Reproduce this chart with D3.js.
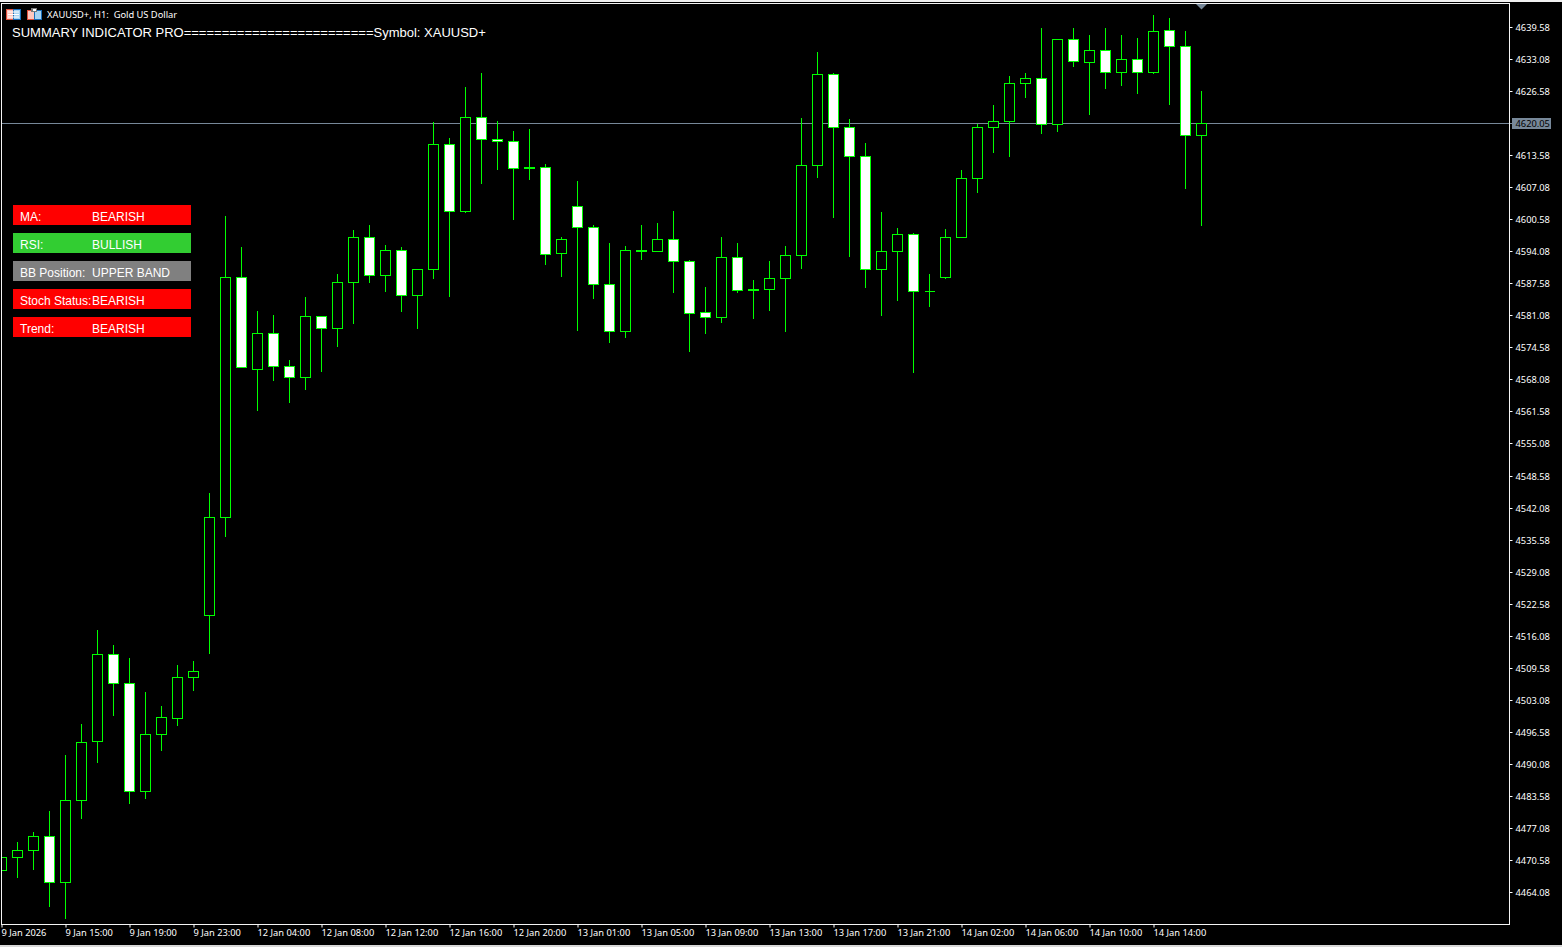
<!DOCTYPE html>
<html><head><meta charset="utf-8"><script src="https://cdn.jsdelivr.net/npm/d3@7/dist/d3.min.js"></script>
<style>html,body{margin:0;padding:0;background:#000;overflow:hidden}svg{display:block}</style></head><body><svg id="c" width="1562" height="947"></svg>
<script>
const opens=[4468.50,4471.14,4472.64,4475.48,4466.15,4482.79,4494.76,4512.41,4506.53,4484.61,4496.18,4499.42,4507.74,4520.38,4540.17,4588.90,4570.23,4577.54,4570.84,4568.61,4580.99,4578.55,4587.88,4597.01,4589.30,4594.38,4585.25,4590.52,4615.88,4602.29,4621.36,4616.90,4616.49,4611.18,4611.22,4593.77,4603.30,4599.04,4587.48,4577.94,4594.34,4594.17,4596.61,4592.14,4581.72,4580.78,4592.96,4586.42,4586.46,4588.61,4593.36,4611.62,4630.09,4619.33,4613.45,4590.52,4594.17,4597.62,4586.06,4588.90,4597.01,4608.98,4619.33,4620.55,4628.26,4629.27,4619.94,4637.19,4632.52,4634.95,4630.49,4633.13,4630.49,4639.01,4635.77,4617.71];
const highs=[4471.14,4474.33,4476.36,4480.62,4491.98,4498.27,4517.34,4514.30,4511.66,4504.76,4502.12,4510.24,4511.05,4545.14,4601.34,4595.05,4582.26,4581.45,4572.32,4585.10,4580.99,4589.77,4598.50,4599.51,4595.65,4595.05,4590.72,4620.41,4617.36,4627.71,4630.35,4620.61,4618.78,4618.99,4611.89,4597.08,4608.44,4599.51,4595.86,4595.25,4599.71,4599.92,4602.35,4592.41,4587.13,4597.08,4595.86,4588.55,4592.21,4595.45,4621.22,4634.81,4630.55,4621.02,4616.15,4602.15,4599.10,4597.89,4589.77,4598.90,4610.87,4620.14,4623.86,4629.94,4630.55,4639.68,4637.19,4639.68,4638.06,4639.68,4638.26,4637.65,4642.12,4641.71,4639.07,4626.70];
const lows=[4468.50,4467.08,4468.71,4461.20,4458.76,4479.05,4490.42,4499.95,4482.10,4483.11,4492.85,4497.92,4505.02,4512.53,4536.41,4570.64,4561.83,4567.92,4563.46,4566.09,4569.75,4574.82,4579.48,4587.80,4585.98,4581.92,4578.47,4588.61,4584.96,4602.09,4607.89,4610.73,4600.59,4608.70,4591.46,4589.02,4578.06,4584.56,4575.63,4576.64,4592.47,4594.17,4585.77,4573.80,4577.46,4579.69,4585.77,4580.50,4582.12,4577.86,4590.64,4609.11,4600.99,4593.08,4586.79,4581.11,4584.15,4569.54,4582.93,4588.61,4597.01,4606.06,4614.18,4613.37,4625.34,4618.03,4618.44,4631.63,4621.89,4627.16,4627.77,4626.15,4630.29,4623.92,4606.87,4599.37];
const closes=[4471.14,4472.64,4475.48,4466.15,4482.79,4494.55,4512.41,4506.53,4484.61,4496.18,4499.63,4507.74,4508.96,4540.17,4588.90,4570.64,4577.54,4570.84,4568.61,4580.99,4578.55,4587.88,4597.01,4589.30,4594.38,4585.25,4590.52,4615.88,4602.29,4621.36,4616.90,4616.49,4611.01,4610.97,4593.57,4596.61,4599.04,4587.48,4577.94,4594.38,4594.13,4596.61,4592.14,4581.59,4580.78,4592.96,4586.26,4586.22,4588.70,4593.36,4611.62,4630.09,4619.33,4613.45,4590.52,4594.17,4597.62,4586.06,4586.06,4597.01,4608.98,4619.33,4620.55,4628.26,4629.27,4619.94,4637.19,4632.72,4634.95,4630.49,4633.13,4630.49,4638.81,4635.77,4617.71,4620.05];
const priceTicks=[4639.58,4633.08,4626.58,4613.58,4607.08,4600.58,4594.08,4587.58,4581.08,4574.58,4568.08,4561.58,4555.08,4548.58,4542.08,4535.58,4529.08,4522.58,4516.08,4509.58,4503.08,4496.58,4490.08,4483.58,4477.08,4470.58,4464.08];
const timeTickIdx=[0,4,8,12,16,20,24,28,32,36,40,44,48,52,56,60,64,68,72];
const timeLabels=["9 Jan 2026","9 Jan 15:00","9 Jan 19:00","9 Jan 23:00","12 Jan 04:00","12 Jan 08:00","12 Jan 12:00","12 Jan 16:00","12 Jan 20:00","13 Jan 01:00","13 Jan 05:00","13 Jan 09:00","13 Jan 13:00","13 Jan 17:00","13 Jan 21:00","14 Jan 02:00","14 Jan 06:00","14 Jan 10:00","14 Jan 14:00"];
const lastPrice=4620.05;
const headerText="XAUUSD+, H1:  Gold US Dollar";
const titleText="SUMMARY INDICATOR PRO=========================Symbol: XAUUSD+";
const statusLabels=["MA:","RSI:","BB Position:","Stoch Status:","Trend:"];
const statusValues=["BEARISH","BULLISH","UPPER BAND","BEARISH","BEARISH"];
const statusColors=["#ff0000","#32cd32","#808080","#ff0000","#ff0000"];

const svg=d3.select("#c");
const GREEN="#00ff00", SLATE="#778899", TICKFONT="'Noto Sans',sans-serif", TICKSIZE=9.3;
const x=d3.scaleLinear().domain([0,75]).range([1.5,1201.5]);
const y=d3.scaleLinear().domain([4639.58,4464.08]).range([27.5,892.5]);
const snap=v=>Math.floor(v)+0.5;

svg.append("rect").attr("width",1562).attr("height",947).attr("fill","#000");
svg.append("rect").attr("width",1562).attr("height",2).attr("fill","#f0f0f0");
svg.append("rect").attr("y",945).attr("width",1562).attr("height",2).attr("fill","#d8d8d8");

// current price line (behind candles)
svg.append("line").attr("x1",2).attr("x2",1512).attr("y1",snap(y(lastPrice))).attr("y2",snap(y(lastPrice))).attr("stroke",SLATE);

const plot=svg.append("g");
const candles=d3.range(opens.length).map(i=>({i,o:opens[i],h:highs[i],l:lows[i],c:closes[i]}));
plot.selectAll("line.w").data(candles).join("line").attr("class","w")
 .attr("x1",d=>x(d.i)).attr("x2",d=>x(d.i))
 .attr("y1",d=>snap(y(d.h))).attr("y2",d=>snap(y(d.l)))
 .attr("stroke",GREEN).attr("shape-rendering","crispEdges");
plot.selectAll("path.b").data(candles).join("path").attr("class","b")
 .attr("d",d=>{const p=d3.path(),x0=Math.max(x(d.i)-5,1.5),x1=x(d.i)+5,a=snap(y(d.o)),b=snap(y(d.c));
   p.moveTo(x0,a);p.lineTo(x1,a);p.lineTo(x1,b);p.lineTo(x0,b);p.closePath();return p.toString();})
 .attr("fill",d=>d.c>=d.o?"#000":"#fff").attr("stroke",GREEN).attr("stroke-width",1)
 .attr("shape-rendering","crispEdges");

// frame
svg.append("rect").attr("x",1.5).attr("y",3.5).attr("width",1508).attr("height",921).attr("fill","none").attr("stroke","#f4f4f4").attr("shape-rendering","crispEdges");

// price axis
const yAxis=d3.axisRight(y).tickValues(priceTicks).tickSize(3).tickPadding(3).tickFormat(d3.format(".2f"));
const gy=svg.append("g").attr("transform","translate(1509.5,0)").call(yAxis);
gy.select(".domain").remove();
gy.selectAll(".tick").attr("transform",d=>`translate(0,${snap(y(d))})`);
gy.selectAll("line").attr("stroke","#fff");
gy.selectAll("text").attr("fill","#fff").attr("font-family",TICKFONT).attr("font-size",TICKSIZE).attr("dy","0.34em");

// time axis
const xAxis=d3.axisBottom(x).tickValues(timeTickIdx).tickSize(3).tickFormat((d,i)=>timeLabels[i]);
const gx=svg.append("g").attr("transform","translate(0,924.5)").call(xAxis);
gx.select(".domain").remove();
gx.selectAll("line").attr("stroke","#fff");
gx.selectAll("text").attr("fill","#fff").attr("font-family",TICKFONT).attr("font-size",TICKSIZE).attr("text-anchor","start").attr("x",-0.5).attr("y",5).attr("dy","0.71em");

// current price tag
const ty=snap(y(lastPrice));
svg.append("rect").attr("x",1512).attr("y",ty-5.5).attr("width",39).attr("height",11).attr("fill",SLATE);
svg.append("text").attr("x",1515.5).attr("y",ty).attr("dy","0.34em").attr("font-family",TICKFONT).attr("font-size",TICKSIZE).attr("fill","#000").text(d3.format(".2f")(lastPrice));

// marker above last bar
svg.append("path").attr("d",`M${x(75)-5.5} 4 H${x(75)+5.5} L${x(75)} 9.5 Z`).attr("fill",SLATE);

// header
const ic=svg.append("g");
ic.append("rect").attr("x",6.5).attr("y",9.5).attr("width",14).attr("height",10).attr("fill","#ffc8c0").attr("stroke","#e0503c");
ic.append("rect").attr("x",13.5).attr("y",9.5).attr("width",7).attr("height",10).attr("fill","#a8d4f4").attr("stroke","#1a6eb8");
ic.selectAll("rect.r").data([11.5,14,16.5]).join("rect").attr("class","r").attr("x",8).attr("y",d=>d).attr("width",11).attr("height",1).attr("fill","#fff");
ic.append("rect").attr("x",27.5).attr("y",10.5).attr("width",7).attr("height",9).attr("fill","#ffc8c0").attr("stroke","#e0503c");
ic.append("rect").attr("x",34.5).attr("y",10.5).attr("width",7).attr("height",9).attr("fill","#a8d4f4").attr("stroke","#1a6eb8");
ic.append("rect").attr("x",31).attr("y",8).attr("width",6).attr("height",4).attr("fill","#7a7a7a");
ic.append("rect").attr("x",33).attr("y",9).attr("width",3).attr("height",2).attr("fill","#fff");
svg.append("text").attr("x",47).attr("y",18).attr("font-family",TICKFONT).attr("font-size",TICKSIZE).attr("fill","#fff").style("white-space","pre").text(headerText);
svg.append("text").attr("x",12).attr("y",37).attr("font-family","'Liberation Sans',Arial,sans-serif").attr("font-size",13).attr("fill","#fff").text(titleText);

// status panel
const panel=svg.append("g").selectAll("g").data(statusLabels).join("g").attr("transform",(d,i)=>`translate(13,${205+28*i})`);
panel.append("rect").attr("width",178).attr("height",20).attr("fill",(d,i)=>statusColors[i]);
panel.append("text").attr("x",7).attr("y",16).attr("font-family","'Liberation Sans',Arial,sans-serif").attr("font-size",12).attr("fill","#fff").text(d=>d);
panel.append("text").attr("x",79).attr("y",16).attr("font-family","'Liberation Sans',Arial,sans-serif").attr("font-size",12).attr("fill","#fff").text((d,i)=>statusValues[i]);
</script></body></html>
